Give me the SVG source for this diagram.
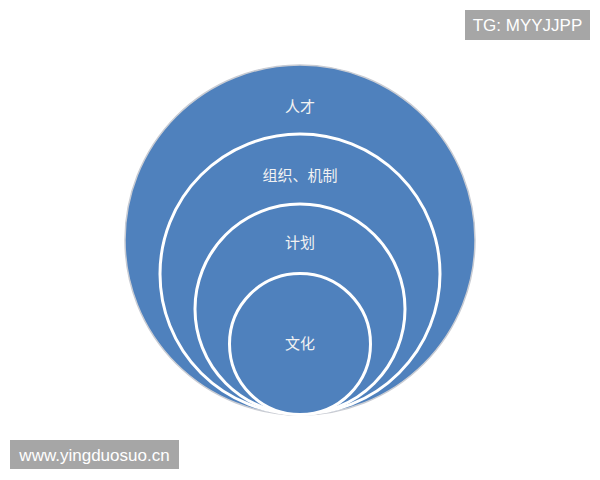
<svg xmlns="http://www.w3.org/2000/svg" width="600" height="480" viewBox="0 0 600 480">
<style>
.ring{fill:#4f81bd;stroke:#ffffff;stroke-width:3}
.lbl{font-family:"Noto Sans CJK SC","Noto Sans",sans-serif;font-size:15px;fill:#f2f2f2;text-anchor:middle}
.tag{fill:#a6a6a6}
.tagt{font-family:"Liberation Sans",Arial,sans-serif;font-size:17px;fill:#ffffff}
</style>
<rect width="600" height="480" fill="#ffffff"/>
<g id="outer">
<circle cx="300" cy="240" r="175" fill="#4f81bd" stroke="#c9ccd3" stroke-width="1.5"/>
<text class="lbl" x="300" y="112">人才</text>
</g>
<g id="org">
<circle class="ring" cx="300" cy="274" r="140"/>
<text class="lbl" x="300" y="181">组织、机制</text>
</g>
<g id="plan">
<circle class="ring" cx="300" cy="309" r="105"/>
<text class="lbl" x="300" y="248">计划</text>
</g>
<g id="culture">
<circle class="ring" cx="300" cy="344" r="70.5"/>
<text class="lbl" x="300" y="349">文化</text>
</g>
<g id="connectors"></g>
<g id="tag-top">
<rect class="tag" x="465" y="10" width="125" height="30"/>
<text class="tagt" x="527.5" y="31" text-anchor="middle">TG: MYYJJPP</text>
</g>
<g id="tag-bottom">
<rect class="tag" x="10" y="440" width="169" height="29"/>
<text class="tagt" x="94.5" y="461" text-anchor="middle">www.yingduosuo.cn</text>
</g>
</svg>
